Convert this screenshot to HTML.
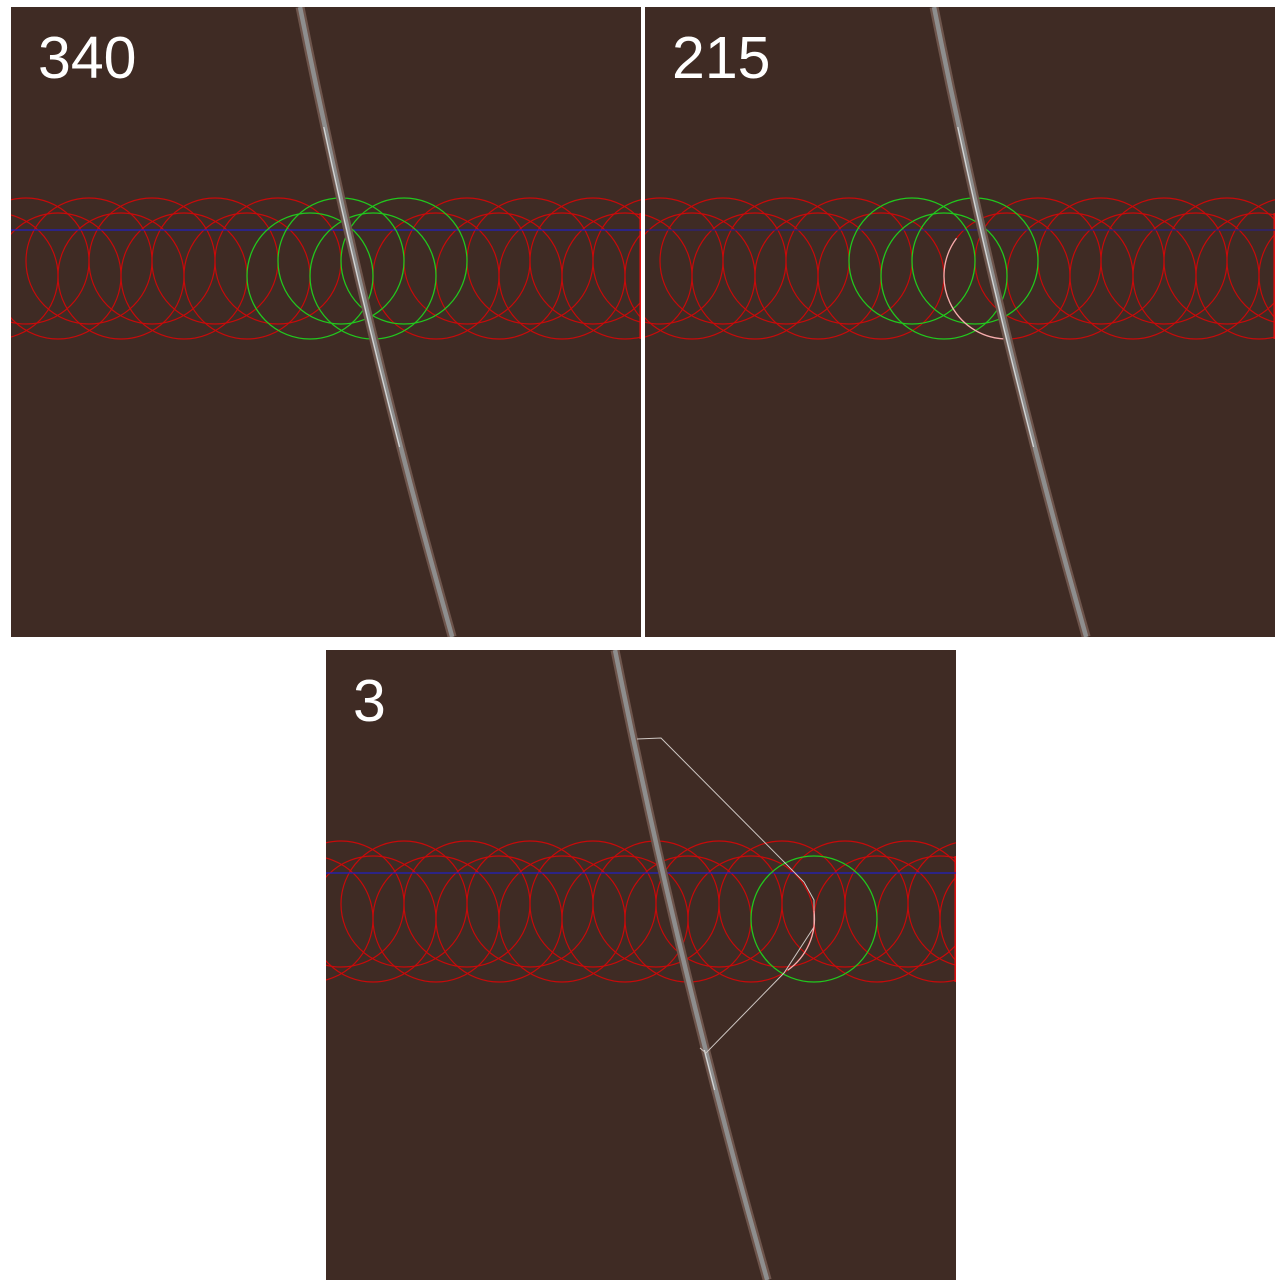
<!DOCTYPE html>
<html><head><meta charset="utf-8">
<style>
html,body{margin:0;padding:0;background:#fff;width:1275px;height:1280px;overflow:hidden}
svg{display:block}
text{font-family:"Liberation Sans",sans-serif}
</style></head>
<body>
<svg id="root" width="1275" height="1280" viewBox="0 0 1275 1280"></svg>
<script>
// panel data
const panelLabels = ["340", "215", "3"];
const panelOrigins = [[11,7],[645,7],[326,650]];
// circle grid: index k along each row
const upperRowK = [0,1,2,3,4,5,6,7,8,9,10];
const lowerRowK = [0,1,2,3,4,5,6,7,8,9,10,11];
const greenUpper = [[5,6],[4,5],[]];
const greenLower = [[5,6],[5],[8]];
// curve sample rows (relative y)
const curveYs = [0,40,80,120,160,200,240,280,320,360,400,440,480,520,560,600,630];
const hiliteRange = [[95,460],[90,460],[400,462]];

const NS="http://www.w3.org/2000/svg";
const root=document.getElementById('root');
function mk(tag,attrs,parent){const e=document.createElementNS(NS,tag);for(const k in attrs)e.setAttribute(k,attrs[k]);(parent||root).appendChild(e);return e;}
const W=630,H=630,R=63,STEP=63;
const upX=k=>15+STEP*k, loX=k=>-16+STEP*k;
const UPY=254, LOY=269, BLUEY=223;
const curveX=y=>289+0.2*y+6.6e-5*y*y;

const defs=mk('defs',{});
panelOrigins.forEach((o,i)=>{
  const cp=mk('clipPath',{id:'cp'+i},defs);
  mk('rect',{x:0,y:0,width:W,height:H},cp);
});

panelOrigins.forEach((o,i)=>{
  const g=mk('g',{transform:`translate(${o[0]},${o[1]})`,'clip-path':`url(#cp${i})`});
  
  
  const bg=mk('rect',{x:0,y:0,width:W,height:H,fill:'#3f2b24'},g);
  
  
  // red circles
  upperRowK.forEach(k=>{
    if(greenUpper[i].includes(k))return;
    const c=mk('circle',{cx:upX(k),cy:UPY,r:R,fill:'none',stroke:'#c80a0a','stroke-width':1.2},g);
    
    
  });
  lowerRowK.forEach(k=>{
    if(greenLower[i].includes(k))return;
    const c=mk('circle',{cx:loX(k),cy:LOY,r:R,fill:'none',stroke:'#c80a0a','stroke-width':1.2},g);
    
    
  });
  mk('line',{x1:W-0.8,y1:LOY-R,x2:W-0.8,y2:LOY+R,stroke:'#e01010','stroke-width':1.5},g);
  // blue line
  const bl=mk('line',{x1:0,y1:BLUEY,x2:W,y2:BLUEY,stroke:i===1?'#2a2280':'#2020c0','stroke-width':1.3},g);
  
  
  // green circles
  greenUpper[i].forEach(k=>{
    const c=mk('circle',{cx:upX(k),cy:UPY,r:R,fill:'none',stroke:'#22c81e','stroke-width':1.3},g);
    
    
  });
  greenLower[i].forEach(k=>{
    const c=mk('circle',{cx:loX(k),cy:LOY,r:R,fill:'none',stroke:'#22c81e','stroke-width':1.3},g);
    
    
  });
  // curve
  const d=curveYs.map((y,j)=>(j?'L':'M')+curveX(y).toFixed(1)+' '+y).join(' ');
  mk('path',{d:d,fill:'none',stroke:'#6e554c','stroke-width':9},g);
  const cv=mk('path',{d:d,fill:'none',stroke:'#8e8e8e','stroke-width':4.5},g);
  
  
  const hr=hiliteRange[i];
  const hd=curveYs.filter(y=>y>=hr[0]&&y<=hr[1]).map((y,j)=>(j?'L':'M')+(curveX(y)-1.2).toFixed(1)+' '+y).join(' ');
  mk('path',{d:hd,fill:'none',stroke:'#d8d8d8','stroke-width':1.2},g);
  // extra annotations
  if(i===1){
    const cx=loX(6),cy=LOY;
    const a1=-2.5,a2=1.63;
    const p=`M${cx+R*Math.cos(a1)} ${cy+R*Math.sin(a1)} A${R} ${R} 0 0 0 ${cx+R*Math.cos(a2)} ${cy+R*Math.sin(a2)}`;
    const ar=mk('path',{d:p,fill:'none',stroke:'#f0b0b0','stroke-width':1.3},g);
    
    
  }
  if(i===2){
    const pts=[[311,89],[335,88],[478,232],[488,250],[488,277],[458,323],[380,403],[374,398]];
    const pl=mk('polyline',{points:pts.map(p=>p.join(',')).join(' '),fill:'none',stroke:'#cfc8c4','stroke-width':1},g);
    
    
    const cx=loX(7),cy=LOY;
    const p=`M${cx+R} ${cy-8} A${R} ${R} 0 0 1 ${cx+R*Math.cos(0.95)} ${cy+R*Math.sin(0.95)}`;
    mk('path',{d:p,fill:'none',stroke:'#f0b0b0','stroke-width':1.3},g);
  }
  const t=mk('text',{x:27,y:71,fill:'#ffffff','font-size':59},g);
  t.textContent=panelLabels[i];
  
  
});
</script>
</body></html>
